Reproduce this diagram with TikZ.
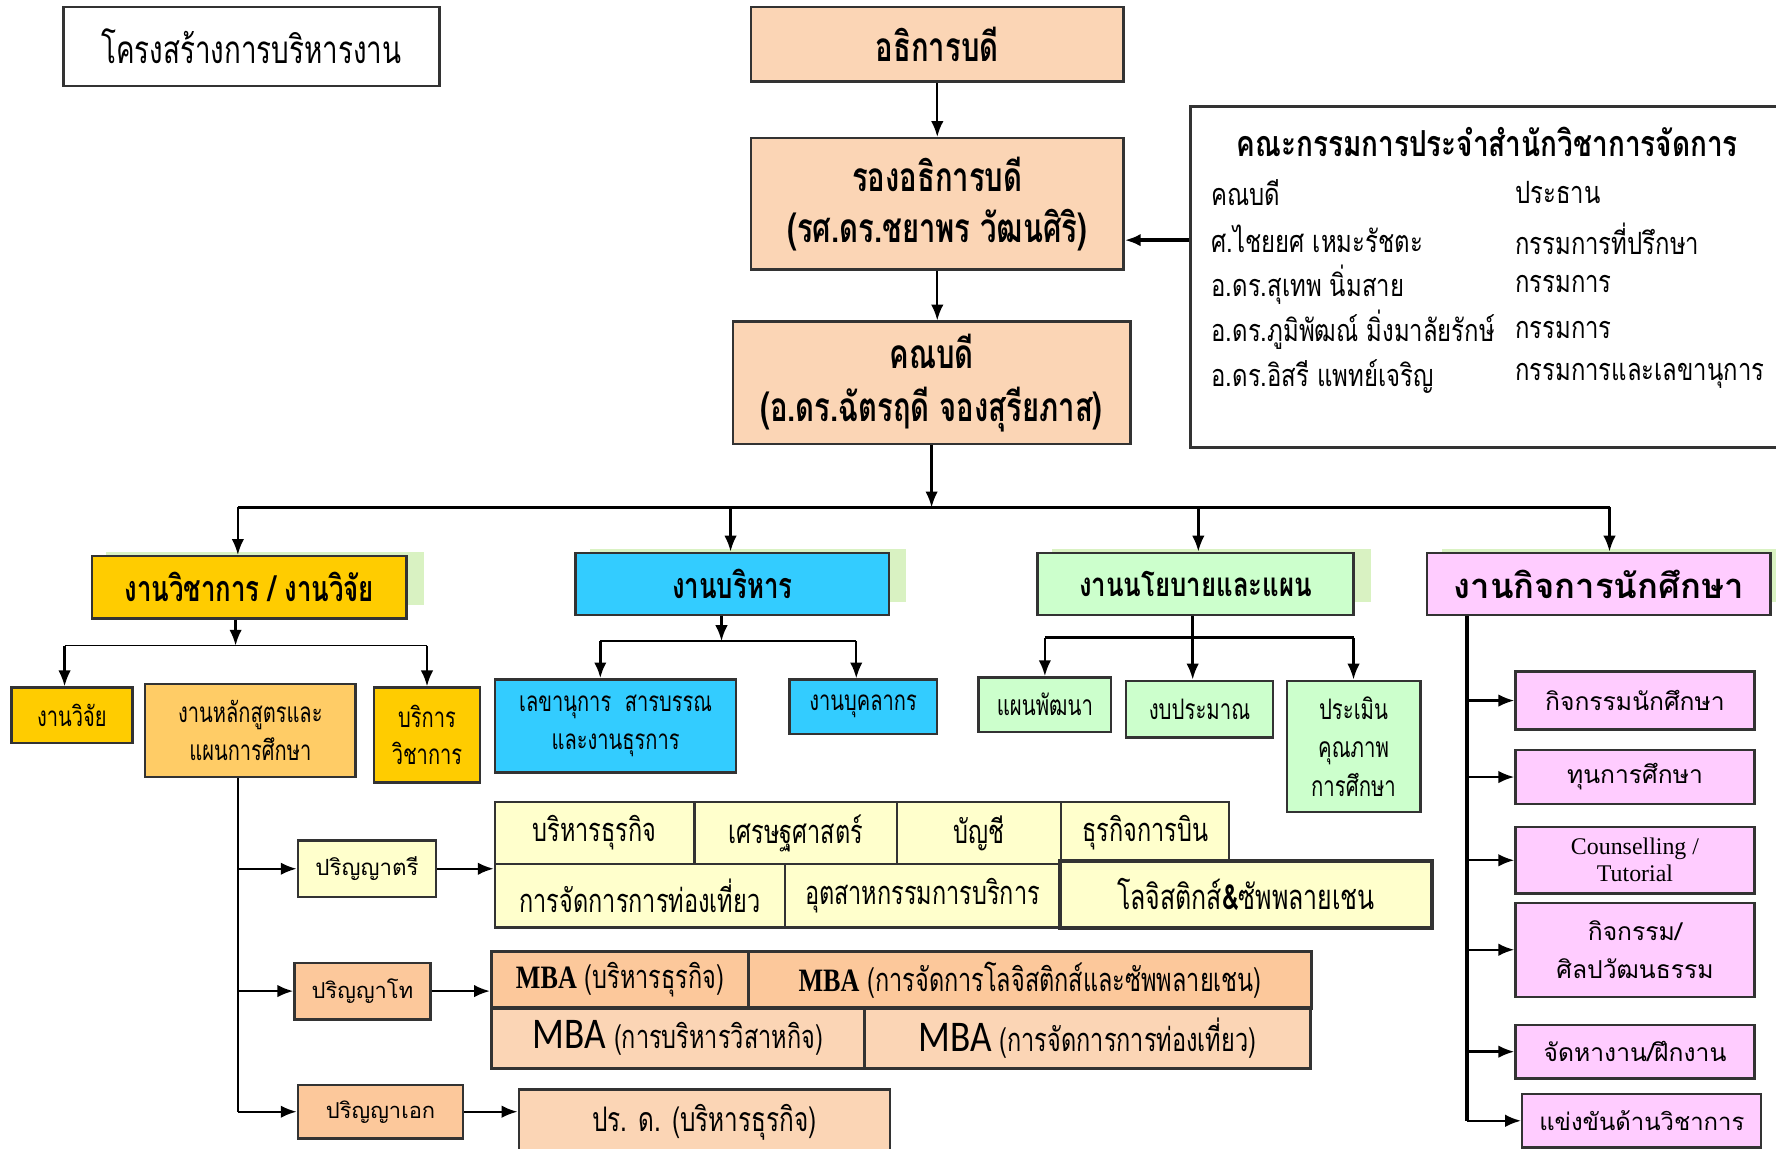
\documentclass[tikz,border=0pt]{standalone}
\usepackage{fontspec}
\setmainfont{Liberation Serif}
\newfontfamily\thai[Script=Thai]{Loma}
\newfontfamily\thaimid[Script=Thai,FakeStretch=0.78]{Loma}
\newfontfamily\thainarrow[Script=Thai,FakeStretch=0.72]{Loma}
\newfontfamily\serifnarrow[FakeStretch=0.8]{Liberation Serif}
\newfontfamily\calib[FakeStretch=0.85]{Carlito}
\usetikzlibrary{arrows.meta, backgrounds}
\definecolor{peach}{HTML}{FBD5B5}
\definecolor{gold}{HTML}{FFCC00}
\definecolor{apricot}{HTML}{FFCC66}
\definecolor{sky}{HTML}{33CCFF}
\definecolor{mint}{HTML}{CCFFCC}
\definecolor{pink}{HTML}{FFCCFF}
\definecolor{cream}{HTML}{FFFFCC}
\definecolor{tan}{HTML}{FCC89B}
\definecolor{glowgreen}{HTML}{D9F2C2}
\newcommand{\fs}[2]{\fontsize{#1}{#2}\selectfont}
\newcommand{\mba}{{\serifnarrow\bfseries\fs{8.2}{10}MBA}}
\newcommand{\mbab}{{\calib\fs{11}{13}MBA}}
\tikzset{
  box/.style={draw=black!80, line width=0.6pt, inner sep=0pt, align=center},
  sz/.style 2 args={minimum width=#1, minimum height=#2},
  arr/.style={-{Latex[length=1.4mm,width=1.1mm]}, line width=0.6pt},
  bus/.style={line width=0.9pt},
}

\begin{document}
\begin{tikzpicture}[x=0.1mm, y=-0.1mm]
\useasboundingbox (0,0) rectangle (1568,1014);
\clip (0,0) rectangle (1568,1014);

\node[box, sz={33.2mm}{7mm}, font=\thainarrow\fs{9.7}{12}] (title) at (222,41) {โครงสร้างการบริหารงาน};

\node[box, fill=peach, sz={32.9mm}{6.6mm}, font=\thainarrow\bfseries\fs{10.2}{12.8}] (dean) at (827.5,39) {อธิการบดี};
\node[box, fill=peach, sz={32.9mm}{11.6mm}, font=\thainarrow\bfseries\fs{10.2}{12.8}] (vice) at (827.5,180) {รองอธิการบดี\\(รศ.ดร.ชยาพร วัฒนศิริ)};
\node[box, fill=peach, sz={35.1mm}{10.8mm}, font=\thainarrow\bfseries\fs{10.2}{13.4}] (head) at (822.5,338) {คณบดี\\(อ.ดร.ฉัตรฤดี จองสุรียภาส)};

\node[box, sz={52.4mm}{30.1mm}] (board) at (1313,244.5) {};
\node[font=\thaimid\bfseries\fs{9}{11}] (boardhead) at (1313,125) {คณะกรรมการประจำสำนักวิชาการจัดการ};
\foreach \who/\role [count=\i] in {คณบดี/ประธาน, ศ.ไชยยศ เหมะรัชตะ/กรรมการที่ปรึกษา, อ.ดร.สุเทพ นิ่มสาย/กรรมการ, อ.ดร.ภูมิพัฒณ์ มิ่งมาลัยรักษ์/กรรมการ, อ.ดร.อิสรี แพทย์เจริญ/กรรมการและเลขานุการ}{
  \node[anchor=west, inner sep=0pt, font=\thaimid\fs{7.7}{10}] (who\i) at (1069,129.5+40.5*\i) {\who};
  \node[anchor=west, inner sep=0pt, font=\thaimid\fs{7.7}{10}] (role\i) at (1337,129.5+40.5*\i) {\role};
}

\draw[arr] (dean.south) -- (vice.north);
\draw[arr] (vice.south) -- (vice.south |- head.north);
\coordinate (vicein) at ([yshift=-3.2mm]vice.east);
\draw[arr, line width=1pt] (vicein -| board.west) -- (vicein);

% departments
\node[box, fill=gold, sz={27.8mm}{5.5mm}, font=\thainarrow\bfseries\fs{9}{11}] (acad) at (220,518.5) {งานวิชาการ / งานวิจัย};
\node[box, fill=sky, sz={27.7mm}{5.5mm}, font=\thainarrow\bfseries\fs{9}{11}] (admin) at (646.5,515.5) {งานบริหาร};
\node[box, fill=mint, sz={27.9mm}{5.5mm}, font=\thaimid\bfseries\fs{8.3}{10}] (policy) at (1055.5,515.5) {งานนโยบายและแผน};
\node[box, fill=pink, sz={30.3mm}{5.5mm}, font=\thai\bfseries\fs{8.7}{10}] (stud) at (1411.5,515.5) {งานกิจการนักศึกษา};
\begin{scope}[on background layer]
\foreach \n in {acad, admin, policy, stud}
  \fill[glowgreen] ([xshift=1.4mm, yshift=0.25mm]\n.north west) rectangle ([xshift=1.4mm, yshift=1.3mm]\n.south east);
\end{scope}

\coordinate (bar) at (822.5,448);
\draw[arr] (head.south) -- (bar);
\foreach \n/\dx in {acad/-1, admin/-0.15, policy/0.25, stud/0.95}
  \coordinate (\n-in) at ([xshift=\dx mm]\n.north);
\draw[bus] (acad-in |- bar) -- (stud-in |- bar);
\foreach \n in {acad, admin, policy, stud}
  \draw[arr] (\n-in |- bar) -- (\n-in);

% academic
\node[box, fill=gold, sz={10.7mm}{4.9mm}, font=\thainarrow\fs{7}{9.4}] (research) at (63.5,631.5) {งานวิจัย};
\node[box, fill=apricot, sz={18.6mm}{8.2mm}, font=\thainarrow\fs{7}{9.4}] (curri) at (221,645) {งานหลักสูตรและ\\แผนการศึกษา};
\node[box, fill=gold, sz={9.4mm}{8.4mm}, font=\thainarrow\fs{7}{9.4}] (service) at (377,649) {บริการ\\วิชาการ};
\coordinate (acadbus) at (208,570);
\coordinate (research-in) at ([xshift=-0.65mm]research.north);
\draw[arr] (acad.south -| acadbus) -- (acadbus);
\draw (research-in |- acadbus) -- (service.north |- acadbus);
\draw[arr] (research-in |- acadbus) -- (research-in);
\draw[arr] (service.north |- acadbus) -- (service.north);

% administration
\node[box, fill=sky, sz={21.3mm}{8.2mm}, font=\thainarrow\fs{7}{9.7}] (secre) at (543.5,641) {เลขานุการ~~สารบรรณ\\และงานธุรการ};
\node[box, fill=sky, sz={13mm}{4.8mm}, font=\thainarrow\fs{7}{9.7}] (person) at (762,624) {งานบุคลากร};
\coordinate (adminbus) at (637,566);
\coordinate (secre-in) at ([xshift=-1.35mm]secre.north);
\coordinate (person-in) at ([xshift=-0.6mm]person.north);
\draw[arr] (admin.south -| adminbus) -- (adminbus);
\draw (secre-in |- adminbus) -- (person-in |- adminbus);
\draw[arr, line width=0.9pt] (secre-in |- adminbus) -- (secre-in);
\draw[arr] (person-in |- adminbus) -- (person-in);

% policy
\node[box, fill=mint, sz={11.7mm}{4.8mm}, font=\thainarrow\fs{7.1}{9.7}] (plan) at (922.5,622) {แผนพัฒนา};
\node[box, fill=mint, sz={13mm}{5mm}, font=\thainarrow\fs{7.1}{9.7}] (budget) at (1059,626) {งบประมาณ};
\node[box, fill=mint, sz={11.8mm}{11.6mm}, font=\thainarrow\fs{7.1}{9.7}] (qa) at (1195,659) {ประเมิน\\คุณภาพ\\การศึกษา};
\coordinate (policybus) at (1053,563);
\draw[arr] (policy.south -| policybus) -- (policybus |- budget.north);
\draw[bus] (plan.north |- policybus) -- (qa.north |- policybus);
\draw[arr] (plan.north |- policybus) -- (plan.north);
\draw[arr] (qa.north |- policybus) -- (qa.north);

% student affairs
\node[box, fill=pink, sz={21.1mm}{5.1mm}, font=\thai\fs{6.2}{9.4}] (act) at (1443.5,618.5) {กิจกรรมนักศึกษา};
\node[box, fill=pink, sz={21.1mm}{4.8mm}, font=\thai\fs{6.2}{9.4}] (fund) at (1443.5,686) {ทุนการศึกษา};
\node[box, fill=pink, sz={21.1mm}{5.9mm}, font=\fs{6}{6.8}] (couns) at (1443.5,759.5) {Counselling /\\Tutorial};
\node[box, fill=pink, sz={21.1mm}{8.3mm}, font=\thai\fs{6.2}{9.4}] (art) at (1443.5,838.5) {กิจกรรม/\\ศิลปวัฒนธรรม};
\node[box, fill=pink, sz={21.1mm}{4.7mm}, font=\thai\fs{6.2}{9.4}] (job) at (1443.5,928.5) {จัดหางาน/ฝึกงาน};
\node[box, fill=pink, sz={21.1mm}{4.7mm}, font=\thai\fs{6}{9.4}] (comp) at (1449.5,989.5) {แข่งขันด้านวิชาการ};
\coordinate (studspine) at (1295,546);
\draw[bus] (stud.south -| studspine) -- (studspine |- comp.west);
\foreach \n in {act, fund, couns, art, job, comp}
  \draw[arr] (studspine |- \n.west) -- (\n.west);

% degrees
\node[box, fill=cream, sz={12.2mm}{5mm}, font=\thai\fs{5.6}{8}] (bach) at (324,767) {ปริญญาตรี};
\node[box, fill=tan, sz={12mm}{5mm}, font=\thai\fs{5.5}{8}] (mast) at (320,875) {ปริญญาโท};
\node[box, fill=tan, sz={14.6mm}{4.7mm}, font=\thai\fs{5.5}{8}] (doct) at (336,981.5) {ปริญญาเอก};
\coordinate (degspine) at (210,690);
\draw[line width=0.5pt] (curri.south -| degspine) -- (degspine |- doct.west);
\foreach \n in {bach, mast, doct}
  \draw[arr] (degspine |- \n.west) -- (\n.west);

\begin{scope}[every node/.style={box, fill=cream, font=\thainarrow\fs{8.2}{10}}]
\node[sz={17.6mm}{5.5mm}] (b1) at (525,735.5) {บริหารธุรกิจ};
\node[sz={17.9mm}{5.5mm}] (b2) at (702.5,735.5) {เศรษฐศาสตร์};
\node[sz={14.5mm}{5.5mm}] (b3) at (864.5,735.5) {บัญชี};
\node[sz={14.8mm}{5.5mm}] (b4) at (1011,735.5) {ธุรกิจการบิน};
\node[sz={25.6mm}{5.6mm}] (b5) at (565,791) {การจัดการการท่องเที่ยว};
\node[sz={24.3mm}{5.6mm}] (b6) at (814.5,791) {อุตสาหกรรมการบริการ};
\node[sz={32.8mm}{5.9mm}, line width=1pt, font=\thainarrow\fs{8.7}{11}] (b7) at (1100,789.5) {โลจิสติกส์\textbf{\&}ซัพพลายเชน};
\end{scope}
\draw[arr] (bach.east) -- (bach.east -| b1.west);

\begin{scope}[every node/.style={box, line width=0.8pt, font=\thainarrow\fs{8.2}{10}}]
\node[fill=tan, sz={22.7mm}{5mm}] (m1) at (547.5,865) {\mba\ (บริหารธุรกิจ)};
\node[fill=tan, sz={49.7mm}{5mm}] (m2) at (909.5,865) {\mba\ (การจัดการโลจิสติกส์และซัพพลายเชน)};
\node[fill=peach, sz={32.9mm}{5.3mm}] (m3) at (598.5,916.5) {\mbab\ (การบริหารวิสาหกิจ)};
\node[fill=peach, sz={39.4mm}{5.3mm}] (m4) at (960,916.5) {\mbab\ (การจัดการการท่องเที่ยว)};
\end{scope}
\draw[arr] (mast.east) -- (mast.east -| m1.west);

\node[box, fill=peach, sz={32.8mm}{5.8mm}, font=\thainarrow\fs{8.5}{11}] (d1) at (622,991) {ปร. ด. (บริหารธุรกิจ)};
\draw[arr] (doct.east) -- (doct.east -| d1.west);
\end{tikzpicture}
\end{document}
